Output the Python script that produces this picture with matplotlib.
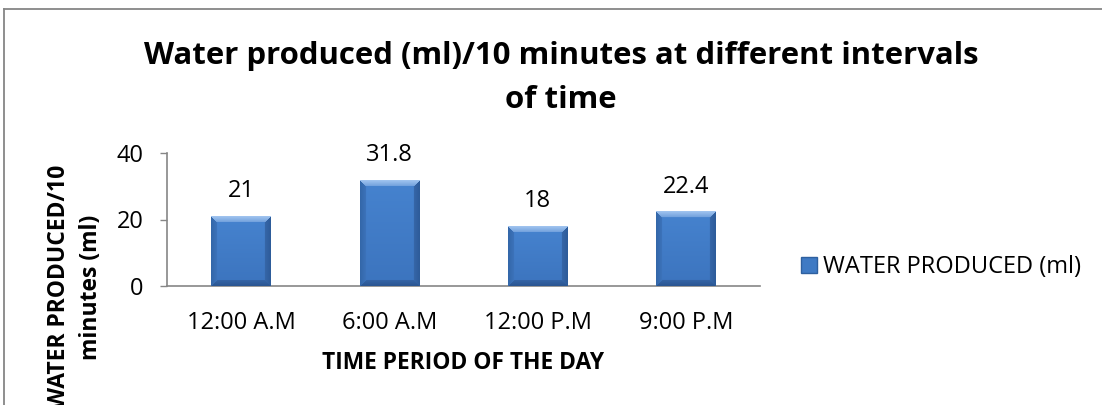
import numpy as np
import matplotlib
matplotlib.use("Agg")
import matplotlib.pyplot as plt
from matplotlib.colors import to_rgb
from matplotlib.lines import Line2D

categories = ["12:00 A.M", "6:00 A.M", "12:00 P.M", "9:00 P.M"]
values = [21, 31.8, 18, 22.4]
series_name = "WATER PRODUCED (ml)"
title = "Water produced (ml)/10 minutes at different intervals\nof time"
xlabel = "TIME PERIOD OF THE DAY"
ylabel = "WATER PRODUCED/10\nminutes (ml)"
yticks = [0, 20, 40]

W, H = 1102, 405
plt.rcParams['font.family'] = ['Open Sans', 'DejaVu Sans']
fig = plt.figure(figsize=(W / 100, H / 100), dpi=100)
ax = fig.add_axes([167 / W, 119 / H, 593 / W, 133 / H])

x = np.arange(len(categories))
bw = 0.4
bars = ax.bar(x, values, width=bw, color="#3F7AC4", zorder=2)
ax.set_xlim(-0.5, len(categories) - 0.5)
ax.set_ylim(0, 40)

gray = "#868686"
for s in ["top", "right"]:
    ax.spines[s].set_visible(False)
for s in ["left", "bottom"]:
    ax.spines[s].set_color(gray)
    ax.spines[s].set_linewidth(1.2)
ax.set_yticks(yticks)
ax.tick_params(axis="y", direction="out", length=5, width=1, color=gray, pad=12, labelsize=17)
ax.tick_params(axis="x", length=0, pad=18, labelsize=17)
ax.set_xticks(x)
ax.set_xticklabels(categories)

# bevel rendering for bars
def bevel_image(wpx, hpx, b=6):
    jj, ii = np.meshgrid(np.arange(wpx) + 0.5, np.arange(hpx) + 0.5)
    dl, dr, dt, db = jj, wpx - jj, ii, hpx - ii
    t = (ii / hpx)[..., None]
    img = np.array(to_rgb("#4683CF")) * (1 - t) + np.array(to_rgb("#3C74BE")) * t
    stack = np.stack([dt, dl, dr, db])
    face = np.argmin(stack, axis=0)
    dmin = stack.min(axis=0)
    bev = dmin < b
    f = (dmin / b)[..., None]
    top = np.array(to_rgb("#A3C6F0")) * (1 - f) + np.array(to_rgb("#72A1DD")) * f
    left = np.array(to_rgb("#3366A8")) * (1 - f) + np.array(to_rgb("#3C73BA")) * f
    right = np.array(to_rgb("#2D5B99")) * (1 - f) + np.array(to_rgb("#3667A8")) * f
    bottom = np.array(to_rgb("#2A5591")) * (1 - f) + np.array(to_rgb("#3464A6")) * f
    for k, col in enumerate([top, left, right, bottom]):
        m = bev & (face == k)
        img[m] = col[m]
    return np.clip(img, 0, 1)

fig.canvas.draw()
for rect in bars:
    x0, y0 = rect.get_x(), rect.get_y()
    x1, y1 = x0 + rect.get_width(), y0 + rect.get_height()
    p0 = ax.transData.transform((x0, y0))
    p1 = ax.transData.transform((x1, y1))
    wpx = max(int(round(p1[0] - p0[0])), 2)
    hpx = max(int(round(p1[1] - p0[1])), 2)
    ax.imshow(bevel_image(wpx, hpx), extent=[x0, x1, y0, y1], origin="upper",
              aspect="auto", zorder=3, interpolation="bilinear")
ax.set_xlim(-0.5, len(categories) - 0.5)
ax.set_ylim(0, 40)

for xi, v in zip(x, values):
    ax.annotate(f"{v:g}", xy=(xi, v), xytext=(0, 18), textcoords="offset points",
                ha="center", va="center", fontsize=17, zorder=4)

fig.text(561 / W, 1 - 78 / H, title, ha="center", va="center", fontsize=22.4,
         fontweight="bold", linespacing=1.58, multialignment="center")
fig.text(463 / W, 1 - 363 / H, xlabel, ha="center", va="center", fontsize=16.4,
         fontweight="bold")
fig.text(75 / W, 1 - 287 / H, ylabel, ha="center", va="center", fontsize=16.5,
         fontweight="bold", rotation=90, linespacing=1.45, multialignment="center")

handle = Line2D([], [], marker="s", linestyle="none", markersize=12,
                markerfacecolor="#3F7AC4", markeredgecolor="#2E609F")
fig.legend([handle], [series_name], loc="center left",
           bbox_to_anchor=(801 / W, 1 - 267 / H), frameon=False, fontsize=17,
           handlelength=0.7, handletextpad=0.25, borderpad=0, borderaxespad=0)

# chart border
fig.add_artist(Line2D([3.5 / W, 1.0], [1 - 8.5 / H, 1 - 8.5 / H], color=gray, lw=1.3,
                      transform=fig.transFigure))
fig.add_artist(Line2D([3.5 / W, 3.5 / W], [0, 1 - 8.5 / H], color=gray, lw=1.3,
                      transform=fig.transFigure))

fig.savefig("out.png", dpi=100)
